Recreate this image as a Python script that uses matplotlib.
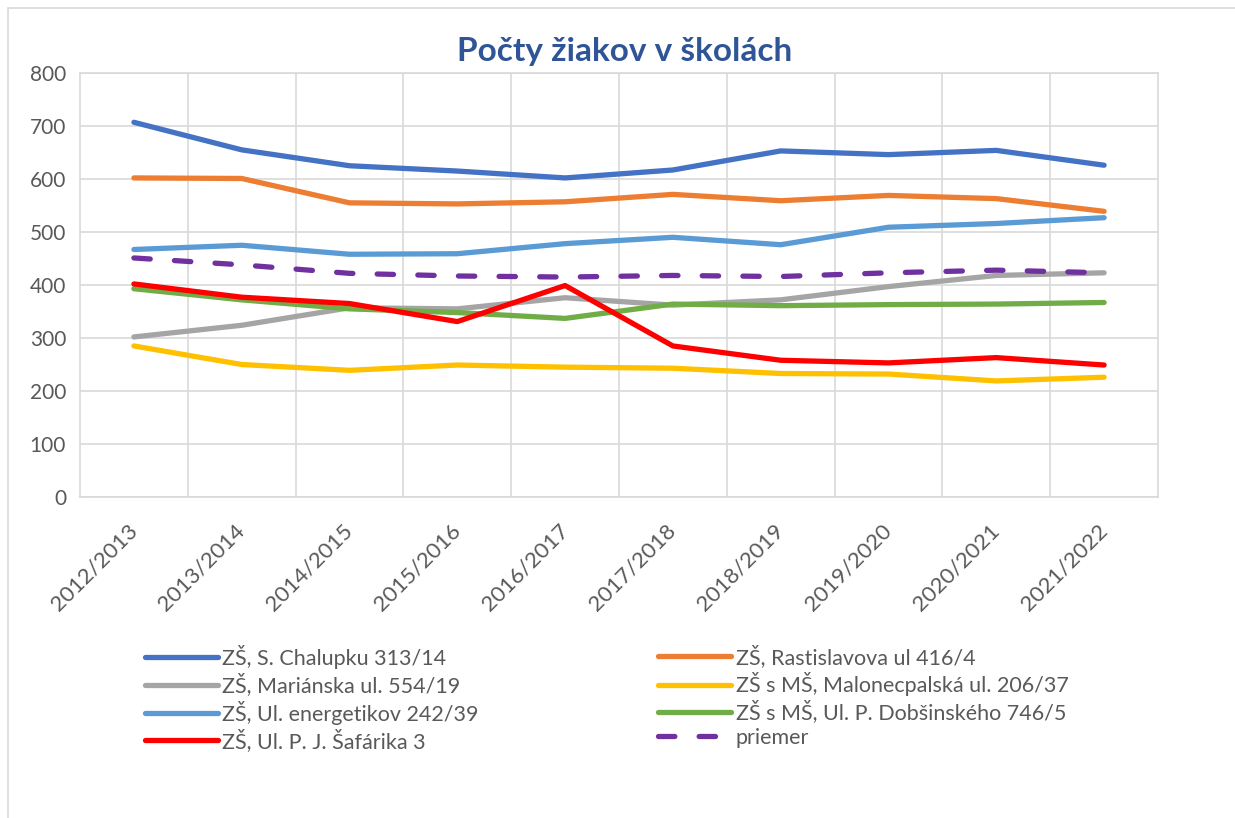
import matplotlib
matplotlib.use("Agg")
from matplotlib import pyplot as plt
from matplotlib.patches import Rectangle

# dáta
roky = ['2012/2013', '2013/2014', '2014/2015', '2015/2016', '2016/2017',
        '2017/2018', '2018/2019', '2019/2020', '2020/2021', '2021/2022']
chalupku = [707, 655, 625, 615, 602, 617, 653, 646, 654, 626]
rastislavova = [602, 601, 555, 553, 557, 571, 559, 569, 563, 539]
marianska = [302, 324, 357, 355, 376, 362, 372, 397, 418, 423]
malonecpalska = [285, 250, 239, 249, 245, 243, 233, 232, 219, 226]
energetikov = [467, 475, 458, 459, 478, 490, 476, 509, 516, 527]
dobsinskeho = [393, 372, 355, 348, 337, 364, 361, 363, 364, 367]
safarika = [402, 377, 365, 331, 399, 285, 258, 253, 263, 249]
priemer = [451, 438, 422, 417, 415, 418, 416, 423, 428, 423]

nazvy = ['ZŠ, S. Chalupku 313/14', 'ZŠ, Rastislavova ul 416/4',
         'ZŠ, Mariánska ul. 554/19', 'ZŠ s MŠ, Malonecpalská ul. 206/37',
         'ZŠ, Ul. energetikov 242/39', 'ZŠ s MŠ, Ul. P. Dobšinského 746/5',
         'ZŠ, Ul. P. J. Šafárika 3', 'priemer']
farby = ['#4472C4', '#ED7D31', '#A5A5A5', '#FFC000', '#5B9BD5', '#70AD47', '#FF0000', '#7030A0']
serie = [chalupku, rastislavova, marianska, malonecpalska, energetikov, dobsinskeho, safarika, priemer]

plt.rcParams['font.family'] = ['Lato', 'DejaVu Sans']
sivy = '#595959'
mriezka = '#D9D9D9'

fig = plt.figure(figsize=(12.35, 8.18), dpi=100, facecolor='w')
# rámik okolo grafu
fig.add_artist(Rectangle((8 / 1235, -0.1), 1.2, 1.1 - 8 / 818, transform=fig.transFigure,
                         fill=False, edgecolor=mriezka, lw=1.2))

ax = fig.add_axes([80 / 1235, 1 - 497 / 818, (1158 - 80) / 1235, (497 - 73) / 818])
x = list(range(len(roky)))
ciary = []
for s, f, n in zip(serie, farby, nazvy):
    ls = (0, (3.1, 4.6)) if n == 'priemer' else '-'
    ln, = ax.plot(x, s, color=f, lw=3.8, ls=ls, solid_capstyle='round',
                  dash_capstyle='round', label=n, zorder=3)
    ciary.append(ln)

ax.set_xlim(-0.5, len(roky) - 0.5)
ax.set_ylim(0, 800)
ax.set_yticks(range(0, 801, 100))
ax.set_xticks(x)
ax.set_xticklabels(roky, rotation=45, ha='right', va='center', rotation_mode='anchor',
                   fontsize=16, color=sivy)
ax.tick_params(axis='y', labelsize=15, labelcolor=sivy, length=0, pad=10)
ax.tick_params(axis='x', length=0, pad=22)
# mriežka medzi kategóriami
ax.set_xticks([i + 0.5 for i in x[:-1]], minor=True)
ax.tick_params(axis='x', which='minor', length=0)
ax.grid(True, which='minor', axis='x', color=mriezka, lw=1.2)
ax.grid(True, which='major', axis='y', color=mriezka, lw=1.2)
for sp in ax.spines.values():
    sp.set_color(mriezka)
    sp.set_linewidth(1.2)
ax.set_axisbelow(True)

fig.text(625 / 1235, 1 - 52 / 818, 'Počty žiakov v školách', ha='center', va='center',
         fontsize=24, fontweight='bold', color='#2F5597')

# legenda v dvoch stĺpcoch (poradie po riadkoch ako v Exceli)
for idx, x0 in (([0, 2, 4, 6], 145), ([1, 3, 5, 7], 658)):
    fig.legend([ciary[i] for i in idx], [nazvy[i] for i in idx], loc='upper left',
               bbox_to_anchor=(x0 / 1235, 1 - 645 / 818), frameon=False, fontsize=15.5,
               labelcolor=sivy, handlelength=3.4, handletextpad=0.2, labelspacing=0.2,
               borderpad=0, borderaxespad=0)

fig.savefig('out.png', dpi=100, facecolor='w')
